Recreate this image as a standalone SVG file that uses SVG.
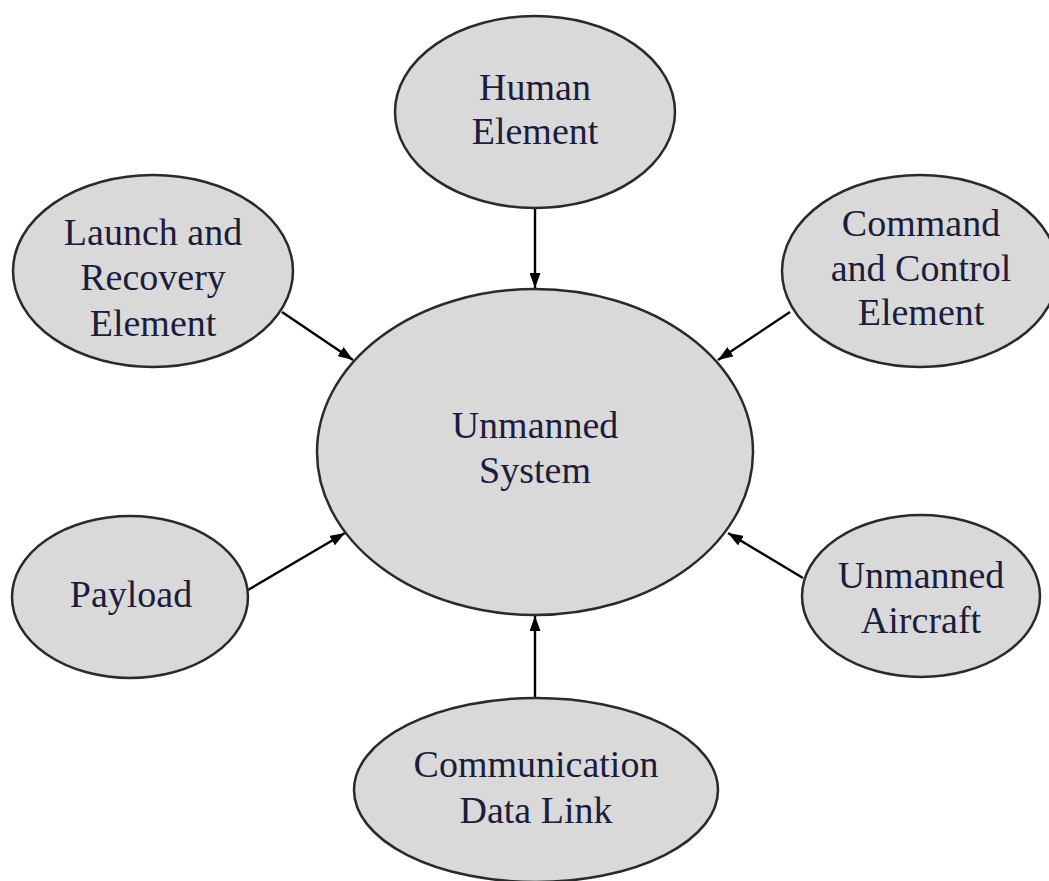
<svg xmlns="http://www.w3.org/2000/svg" width="1049" height="881" viewBox="0 0 1049 881">
<style>
.n ellipse{fill:#d9d9d9;stroke:#2a2a2a;stroke-width:2.5}
.n text{font-family:"Liberation Serif","Times New Roman",serif;font-size:38px;fill:#1c1c3c;text-anchor:middle}
.c line{stroke:#000;stroke-width:2.4;marker-end:url(#a)}
</style>
<defs>
<marker id="a" viewBox="0 0 15 11" refX="15" refY="5.5" markerWidth="15" markerHeight="11" orient="auto" markerUnits="userSpaceOnUse"><path d="M0,0 L15,5.5 L0,11 Z" fill="#000"/></marker>
</defs>
<rect width="1049" height="881" fill="#fff"/>
<g class="c" id="connectors">
<line x1="535" y1="208" x2="535" y2="288"/>
<line x1="282" y1="312" x2="353" y2="360"/>
<line x1="790" y1="312" x2="718" y2="360"/>
<line x1="248" y1="590" x2="345" y2="533"/>
<line x1="803" y1="578" x2="728" y2="533"/>
<line x1="535" y1="698" x2="535" y2="616"/>
</g>
<g class="n" id="unmanned-system"><ellipse cx="535" cy="452" rx="218" ry="163"/><text x="535" y="438">Unmanned</text><text x="535" y="483">System</text></g>
<g class="n" id="human-element"><ellipse cx="535" cy="112" rx="140" ry="96"/><text x="535" y="100">Human</text><text x="535" y="144">Element</text></g>
<g class="n" id="launch-recovery"><ellipse cx="153" cy="271" rx="140" ry="96"/><text x="153" y="245">Launch and</text><text x="153" y="290">Recovery</text><text x="153" y="336">Element</text></g>
<g class="n" id="command-control"><ellipse cx="920" cy="271" rx="138" ry="96"/><text x="921" y="236">Command</text><text x="921" y="281">and Control</text><text x="921" y="325">Element</text></g>
<g class="n" id="payload"><ellipse cx="130" cy="597" rx="118" ry="81"/><text x="131" y="607">Payload</text></g>
<g class="n" id="unmanned-aircraft"><ellipse cx="921" cy="596" rx="119" ry="81"/><text x="921" y="588">Unmanned</text><text x="921" y="633">Aircraft</text></g>
<g class="n" id="comm-data-link"><ellipse cx="536" cy="790" rx="182" ry="92"/><text x="536" y="777">Communication</text><text x="536" y="823">Data Link</text></g>
</svg>
